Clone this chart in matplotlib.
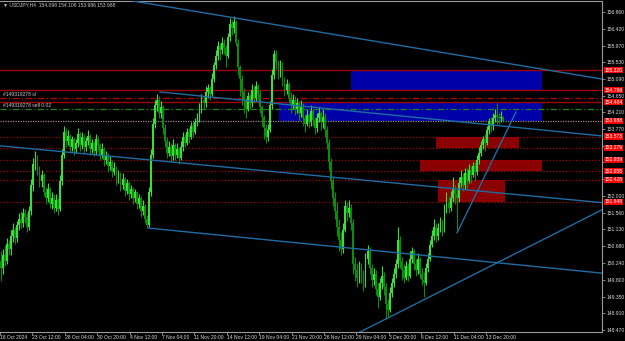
import numpy as np
import matplotlib
matplotlib.use("Agg")
import matplotlib.pyplot as plt
from matplotlib.patches import Rectangle
from matplotlib.transforms import blended_transform_factory

# USDJPY H4 candles, bar 0 = 18 Oct 2024
first_open = 150.30
closes = [
    150.10, 150.45, 150.30, 150.75, 150.60, 150.95, 151.10, 150.90, 151.25, 151.40,
    151.30, 151.55, 151.45, 151.20, 151.60, 152.30, 152.85, 153.05, 152.70, 152.40,
    152.55, 152.10, 151.95, 152.20, 151.80, 151.95, 151.70, 151.90, 151.65, 152.40,
    153.10, 153.70, 153.45, 153.60, 153.30, 153.50, 153.25, 153.40, 153.65, 153.35,
    153.55, 153.30, 153.45, 153.60, 153.25, 153.40, 153.20, 153.50, 153.35, 153.10,
    153.25, 152.95, 153.10, 152.80, 152.90, 152.65, 152.75, 152.45, 152.60, 152.30,
    152.45, 152.15, 152.35, 152.05, 152.20, 151.95, 152.10, 151.80, 151.95, 151.60,
    151.75, 151.40, 151.25, 152.10, 153.10, 153.90, 154.40, 154.55, 154.20, 154.35,
    153.80, 153.45, 153.15, 153.30, 153.05, 153.35, 153.10, 153.25, 153.00, 153.30,
    153.55, 153.40, 153.70, 153.55, 153.85, 153.70, 153.95, 154.05, 154.30, 154.55,
    154.45, 154.75, 154.85, 154.70, 155.10, 155.45, 155.70, 155.95, 155.85, 156.05,
    155.90, 155.70, 156.20, 156.55, 156.45, 156.60, 156.05, 155.40, 155.10, 154.75,
    154.55, 154.30, 154.65, 154.45, 154.80, 154.60, 154.90, 154.70, 154.35, 154.10,
    153.80, 153.55, 153.75, 154.40, 155.20, 155.75, 155.55, 155.30, 155.45, 155.05,
    154.80, 154.95, 154.60, 154.40, 154.55, 154.30, 154.45, 154.20, 154.35, 154.05,
    153.90, 154.15, 153.95, 154.25, 154.00, 153.80, 154.05, 154.20, 153.95, 154.10,
    153.75, 153.40, 152.90, 152.40, 151.95, 151.60, 151.20, 150.85, 150.60, 151.10,
    151.75, 151.55, 151.70, 151.30, 150.20, 150.05, 149.85, 150.15, 149.95, 149.70,
    150.35, 150.55, 150.10, 149.80, 149.95, 149.55, 149.35, 149.70, 149.90, 149.60,
    149.15, 149.00, 149.45, 149.70, 149.95, 150.20, 150.85, 150.30, 150.05, 149.85,
    150.15, 149.90, 150.35, 150.55, 150.20, 150.05, 150.35, 149.95, 149.80, 149.70,
    150.10, 150.35, 150.70, 150.95, 151.20, 150.95, 151.15, 151.35, 151.10, 151.65,
    151.85, 151.70, 151.95, 152.20, 152.05, 151.95, 152.35, 152.50, 152.30, 152.60,
    152.40, 152.70, 152.55, 152.80, 152.65, 152.95, 153.15, 153.35, 153.50, 153.40,
    153.75, 153.95, 153.85, 154.05, 154.15, 154.10, 154.05, 154.098, 153.988,
]
highs = [
    150.55, 150.60, 150.70, 150.90, 150.85, 151.10, 151.30, 151.20, 151.35, 151.55,
    151.60, 151.70, 151.65, 151.55, 151.75, 152.45, 153.00, 153.20, 153.10, 152.80,
    152.70, 152.60, 152.25, 152.35, 152.25, 152.10, 152.05, 152.05, 151.95, 152.55,
    153.25, 153.85, 153.80, 153.75, 153.65, 153.60, 153.55, 153.50, 153.80, 153.70,
    153.70, 153.65, 153.55, 153.75, 153.65, 153.50, 153.45, 153.65, 153.60, 153.40,
    153.40, 153.30, 153.20, 153.15, 153.05, 152.95, 152.90, 152.80, 152.70, 152.65,
    152.60, 152.50, 152.45, 152.40, 152.30, 152.25, 152.20, 152.15, 152.05, 152.00,
    151.90, 151.80, 151.50, 152.25, 153.25, 154.05, 154.55, 154.70, 154.65, 154.50,
    154.40, 153.90, 153.55, 153.45, 153.40, 153.50, 153.40, 153.40, 153.30, 153.45,
    153.70, 153.65, 153.80, 153.80, 153.95, 153.95, 154.05, 154.20, 154.45, 154.70,
    154.65, 154.90, 154.95, 154.90, 155.25, 155.55, 155.85, 156.10, 156.05, 156.20,
    156.15, 156.00, 156.30, 156.70, 156.65, 156.75, 156.65, 156.15, 155.45, 155.20,
    154.85, 154.60, 154.75, 154.70, 154.95, 154.90, 155.05, 154.95, 154.80, 154.40,
    154.15, 153.90, 153.90, 154.50, 155.35, 155.85, 155.85, 155.60, 155.60, 155.55,
    155.15, 155.10, 155.00, 154.75, 154.70, 154.65, 154.60, 154.50, 154.55, 154.45,
    154.15, 154.30, 154.20, 154.40, 154.30, 154.10, 154.20, 154.35, 154.25, 154.30,
    154.20, 153.85, 153.50, 153.00, 152.50, 152.10, 151.85, 151.40, 151.05, 151.30,
    151.90, 151.85, 151.90, 151.80, 151.40, 150.40, 150.25, 150.30, 150.25, 150.05,
    150.50, 150.70, 150.65, 150.20, 150.10, 150.05, 149.70, 149.85, 150.15, 150.00,
    149.70, 149.30, 149.60, 149.85, 150.10, 150.35, 151.20, 150.95, 150.40, 150.20,
    150.30, 150.25, 150.55, 150.65, 150.60, 150.35, 150.50, 150.40, 150.10, 150.00,
    150.25, 150.50, 150.85, 151.10, 151.40, 151.30, 151.30, 151.45, 151.40, 151.80,
    152.10, 152.00, 152.15, 152.50, 152.30, 152.20, 152.50, 152.70, 152.60, 152.75,
    152.75, 152.85, 152.80, 152.90, 152.90, 153.10, 153.30, 153.45, 153.60, 153.65,
    153.85, 154.05, 154.10, 154.20, 154.30, 154.46, 154.20, 154.25, 154.108,
]
lows = [
    149.75, 149.95, 150.15, 150.20, 150.45, 150.45, 150.80, 150.75, 150.80, 151.10,
    151.15, 151.20, 151.30, 151.05, 151.10, 151.50, 152.15, 152.70, 152.55, 152.25,
    152.25, 152.00, 151.80, 151.85, 151.70, 151.65, 151.55, 151.60, 151.50, 151.60,
    152.30, 153.00, 153.30, 153.35, 153.15, 153.20, 153.10, 153.15, 153.30, 153.20,
    153.25, 153.15, 153.20, 153.35, 153.10, 153.15, 153.05, 153.10, 153.20, 152.95,
    153.00, 152.80, 152.85, 152.65, 152.70, 152.50, 152.55, 152.30, 152.35, 152.15,
    152.20, 152.00, 152.05, 151.90, 151.95, 151.80, 151.85, 151.65, 151.70, 151.45,
    151.50, 151.30, 151.15, 151.20, 152.00, 153.00, 153.80, 154.25, 154.05, 154.05,
    153.65, 153.30, 153.00, 153.05, 152.90, 152.95, 152.95, 153.00, 152.85, 152.95,
    153.20, 153.30, 153.35, 153.40, 153.50, 153.55, 153.65, 153.85, 153.95, 154.20,
    154.30, 154.35, 154.60, 154.55, 154.65, 155.00, 155.35, 155.60, 155.60, 155.75,
    155.75, 155.40, 155.65, 156.10, 156.25, 156.30, 155.95, 155.20, 154.65, 154.40,
    154.20, 154.05, 154.25, 154.30, 154.35, 154.45, 154.50, 154.55, 154.20, 153.85,
    153.50, 153.40, 153.45, 153.70, 154.30, 155.10, 155.35, 155.10, 155.15, 154.90,
    154.65, 154.70, 154.45, 154.20, 154.30, 154.15, 154.20, 154.00, 154.10, 153.85,
    153.70, 153.85, 153.80, 153.85, 153.85, 153.65, 153.70, 153.95, 153.75, 153.80,
    153.55, 153.25, 152.70, 152.20, 151.75, 151.40, 150.95, 150.55, 150.45, 150.50,
    151.05, 151.35, 151.45, 151.10, 149.95, 149.75, 149.60, 149.70, 149.70, 149.50,
    149.60, 150.20, 149.95, 149.60, 149.65, 149.40, 149.05, 149.25, 149.55, 149.40,
    148.75, 148.80, 148.95, 149.35, 149.60, 149.85, 150.10, 150.10, 149.80, 149.70,
    149.80, 149.75, 149.85, 150.25, 150.05, 149.90, 149.95, 149.85, 149.65, 149.35,
    149.65, 150.00, 150.30, 150.65, 150.85, 150.80, 150.85, 151.05, 150.95, 151.05,
    151.55, 151.55, 151.60, 151.85, 151.80, 151.10, 151.85, 152.25, 152.15, 152.20,
    152.20, 152.35, 152.35, 152.50, 152.40, 152.55, 152.85, 153.05, 153.25, 153.20,
    153.35, 153.65, 153.70, 153.75, 153.95, 153.90, 153.90, 153.95, 153.986,
]

price_ticks = [156.860, 156.420, 155.970, 155.530, 155.090, 154.650, 154.210, 153.770,
               153.330, 152.890, 152.450, 152.000, 151.560, 151.130, 150.680, 150.240,
               149.800, 149.350, 148.910, 148.470]
# tick labels hidden behind the red price tags
hidden_ticks = [153.330, 152.890, 152.450]
date_pos = [-0.5, 15.5, 31.5, 47.5, 63.5, 79.5, 95.5, 111.5, 127.5, 143.5,
            159.5, 175.5, 191.5, 207.5, 223.5, 239.5]
date_labels = ["18 Oct 2024", "23 Oct 12:00", "28 Oct 04:00", "30 Oct 20:00",
               "4 Nov 12:00", "7 Nov 04:00", "11 Nov 20:00", "14 Nov 12:00",
               "19 Nov 04:00", "21 Nov 20:00", "26 Nov 12:00", "29 Nov 04:00",
               "3 Dec 20:00", "6 Dec 12:00", "11 Dec 04:00", "13 Dec 20:00"]

solid_levels = [155.320, 154.796, 154.484]
dotted_levels = [153.573, 153.279, 152.959, 152.658, 152.428, 151.848]
sl_level = 154.583
entry_level = 154.293
bid = 153.988
tag_levels = [155.320, 154.796, 154.484, 153.988, 153.573, 153.279,
              152.959, 152.658, 152.428, 151.848]

# zones: (bar from, bar to, price low, price high)
blue_zones = [(172.8, 267.2, 154.796, 155.320), (137.3, 267.2, 153.988, 154.484)]
red_zones = [(214.8, 255.8, 153.279, 153.573),
             (206.9, 267.2, 152.658, 152.959),
             (215.8, 248.9, 151.848, 152.428)]

# trend lines: ((bar, price), (bar, price))
trend_lines = [((65.2, 157.15), (296.8, 155.09)),
               ((78.5, 154.75), (296.8, 153.59)),
               ((-0.5, 153.33), (296.8, 151.83)),
               ((72.6, 151.16), (296.8, 149.97)),
               ((176.3, 148.39), (296.8, 151.64)),
               ((225.2, 151.03), (254.3, 154.22))]

W, H = 625, 341
fig = plt.figure(figsize=(W / 100, H / 100), dpi=100, facecolor="black")
ax = fig.add_axes([0, 1 - 332 / H, 602 / W, 331 / H], facecolor="black")
ax.set_xlim(-0.5, 296.8)
ax.set_ylim(148.417, 157.15)

trans = blended_transform_factory(ax.transAxes, ax.transData)

for x0, x1, y0, y1 in blue_zones:
    ax.add_patch(Rectangle((x0, y0), x1 - x0, y1 - y0, facecolor="#0000A8", edgecolor="none", zorder=1))
for x0, x1, y0, y1 in red_zones:
    ax.add_patch(Rectangle((x0, y0), x1 - x0, y1 - y0, facecolor="#8B0000", edgecolor="none", zorder=1))

for lv in solid_levels:
    ax.axhline(lv, color="#A00000", lw=1.0, zorder=2)
for lv in dotted_levels:
    ax.axhline(lv, color="#A80000", lw=0.9, ls=(0, (1, 1.6)), zorder=2)
ax.axhline(sl_level, color="#C00000", lw=0.9, ls=(0, (5, 2, 1, 2)), zorder=2)
ax.axhline(entry_level, color="#1A8A1A", lw=0.9, ls=(0, (5, 2, 1, 2)), zorder=2)
ax.axhline(bid, color="#A08888", lw=0.9, ls=(0, (1, 1)), zorder=2)

# candles
c = np.array(closes)
o = np.array([first_open] + closes[:-1])
hi = np.maximum(np.array(highs), np.maximum(o, c))
lo = np.minimum(np.array(lows), np.minimum(o, c))
x = np.arange(len(c))
up = c >= o
col = np.where(up, "#3CDC3C", "#0B8C0B")
ax.vlines(x, lo, hi, colors=col, lw=0.8, zorder=3)
body = np.maximum(np.abs(c - o), 0.012)
ax.bar(x, body, bottom=np.minimum(o, c), width=0.9, color=col, linewidth=0, zorder=3)

for (xa, ya), (xb, yb) in trend_lines:
    ax.plot([xa, xb], [ya, yb], color="#1F6CA4", lw=1.0, zorder=4)

txt = "#C8C8C8"
ax.text(0.005, 0.995, "\u25bc USDJPY,H4  154.098 154.108 153.986 153.988", transform=ax.transAxes,
        color=txt, fontsize=3.6, va="top", ha="left", family="Liberation Sans")
ax.text(0.005, sl_level + 0.03, "#149319278 sl", transform=trans, color=txt,
        fontsize=3.6, va="bottom", ha="left", family="Liberation Sans")
ax.text(0.005, entry_level + 0.03, "#149319278 sell 0.02", transform=trans, color=txt,
        fontsize=3.6, va="bottom", ha="left", family="Liberation Sans")

# axes styling
for s in ax.spines.values():
    s.set_color("#9A9A9A")
    s.set_linewidth(0.8)
ax.spines["left"].set_visible(False)
ax.yaxis.tick_right()
ax.set_yticks(price_ticks)
ax.set_yticklabels(["" if v in hidden_ticks else f"{v:.3f}" for v in price_ticks])
ax.set_xticks(date_pos)
ax.set_xticklabels(date_labels)
ax.tick_params(axis="both", colors="#9A9A9A", labelcolor="#D8D8D8", labelsize=3.6,
               length=2, width=0.6, pad=1.0)
ax.tick_params(axis="x", pad=0.5)
for lbl in ax.get_xticklabels() + ax.get_yticklabels():
    lbl.set_family("Liberation Sans")
for lbl in ax.get_xticklabels():
    lbl.set_ha("left")

for lv in tag_levels:
    ax.text(1.004, lv, f"{lv:.3f}", transform=trans, color="white", fontsize=3.6,
            family="Liberation Sans", va="center", ha="left", clip_on=False, zorder=6,
            bbox=dict(boxstyle="square,pad=0.12", facecolor="#FF0000", edgecolor="none"))

fig.savefig("out.png", dpi=100, facecolor="black")
